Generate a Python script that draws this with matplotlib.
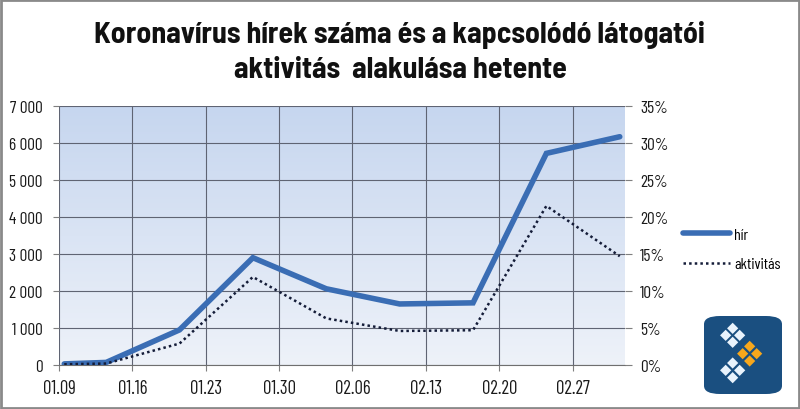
import matplotlib
matplotlib.use("Agg")
import matplotlib.pyplot as plt
import numpy as np
from datetime import datetime, timedelta
from matplotlib.ticker import FuncFormatter, MultipleLocator
from matplotlib.patches import FancyBboxPatch, Rectangle, Polygon
from matplotlib.colors import LinearSegmentedColormap

plt.rcParams['font.family'] = ['Barlow Condensed', 'DejaVu Sans']

title_lines = ["Koronavírus hírek száma és a kapcsolódó látogatói",
               "aktivitás  alakulása hetente"]
dates = ["2020-01-09", "2020-01-13", "2020-01-20", "2020-01-27", "2020-02-03",
         "2020-02-10", "2020-02-17", "2020-02-24", "2020-03-02"]
hir = [30, 70, 950, 2900, 2060, 1650, 1680, 5720, 6170]
aktivitas = [0.1, 0.2, 2.9, 11.9, 6.3, 4.6, 4.7, 21.5, 14.7]
tick_dates = ["2020-01-09", "2020-01-16", "2020-01-23", "2020-01-30",
              "2020-02-06", "2020-02-13", "2020-02-20", "2020-02-27"]
x_start, x_end = "2020-01-09", "2020-03-03"
series_names = ["hír", "aktivitás"]

xd = [datetime.fromisoformat(d) + timedelta(hours=12) for d in dates]
td = [datetime.fromisoformat(d) for d in tick_dates]

fig = plt.figure(figsize=(8, 4.1), dpi=100)
ax = fig.add_axes([0.07375, 0.1073, 0.7075, 0.6317])
ax2 = ax.twinx()

grad = np.linspace(0, 1, 256).reshape(-1, 1)
cmap = LinearSegmentedColormap.from_list("bg", ["#eef2f9", "#c6d6ef"])
ax.imshow(grad, extent=[0, 1, 0, 1], transform=ax.transAxes, origin="lower",
          aspect="auto", cmap=cmap, zorder=0)

ax.set_xlim(datetime.fromisoformat(x_start), datetime.fromisoformat(x_end))
ax.set_ylim(0, 7000)
ax2.set_ylim(0, 35)

ax.set_xticks(td)
ax.set_xticklabels([datetime.fromisoformat(d).strftime("%m.%d") for d in tick_dates])
ax.yaxis.set_major_locator(MultipleLocator(1000))
ax.yaxis.set_major_formatter(FuncFormatter(lambda v, p: f"{int(v):,}".replace(",", " ")))
ax2.yaxis.set_major_locator(MultipleLocator(5))
ax2.yaxis.set_major_formatter(FuncFormatter(lambda v, p: f"{int(v)}%"))

ax.grid(True, color="#5f6473", linewidth=0.8, zorder=1)
for s in ["top", "right", "left"]:
    ax.spines[s].set_visible(False)
    ax2.spines[s].set_visible(False)
ax2.spines["bottom"].set_visible(False)
ax.spines["bottom"].set_color("#6f6f6f")
ax.tick_params(axis="y", colors="#7f7f7f", labelcolor="#1a1a1a", labelsize=12.5,
               length=4.2, pad=7.5)
ax.tick_params(axis="x", colors="#7f7f7f", labelcolor="#1a1a1a", labelsize=13.5,
               length=4, pad=6)
ax2.tick_params(axis="y", colors="#7f7f7f", labelcolor="#1a1a1a", labelsize=12.5,
                length=5, pad=6)

l1, = ax.plot(xd, hir, color="#3a6db4", linewidth=4, solid_capstyle="round",
              solid_joinstyle="miter", zorder=3, label=series_names[0])
l2, = ax2.plot(xd, aktivitas, color="#141c38", linewidth=1.8, linestyle=(0, (1, 1.25)),
               dash_capstyle="butt", zorder=3, label=series_names[1])
ax2.set_zorder(ax.get_zorder() + 1)
ax2.patch.set_visible(False)

fig.legend(handles=[l1, l2], loc="center left", bbox_to_anchor=(0.854, 0.389),
           frameon=False, fontsize=11.5, handlelength=2.95, handletextpad=0.25,
           labelspacing=0.95, borderpad=0, borderaxespad=0)

for line, base in zip(title_lines, [43.3, 78]):
    fig.text(0.5, 1 - base / 410, line, ha="center", va="baseline", fontsize=21.5,
             fontweight="bold", color="#111111",
             family=["Barlow Semi Condensed", "Barlow Condensed", "DejaVu Sans"])

# logo (decoration)
lx0, ly0, lw, lh = 704 / 800, 1 - 395 / 410, 78 / 800, 78 / 410
fig.patches.append(FancyBboxPatch((lx0, ly0), lw, lh, boxstyle="round,pad=0,rounding_size=0.02",
                                  transform=fig.transFigure, facecolor="#1a4f80",
                                  edgecolor="none"))
cells = [(68, 22, "w"), (47, 43, "w"), (89, 43, "w"), (68, 64, "w"),
         (119, 76, "o"), (98, 98, "o"), (140, 98, "o"), (119, 120, "o"),
         (68, 126, "w"), (47, 148, "w"), (89, 148, "w"), (68, 170, "w")]
for zx, zy, c in cells:
    cx = 710 + zx / 3
    cy = 322 + zy / 3
    r = 5.6
    pts = [(cx - r, cy), (cx, cy - r), (cx + r, cy), (cx, cy + r)]
    pts = [(px / 800, 1 - py / 410) for px, py in pts]
    fig.patches.append(Polygon(pts, closed=True, transform=fig.transFigure,
                               facecolor="#e9f3fc" if c == "w" else "#f7a71c",
                               edgecolor="none"))

fig.patches.append(Rectangle((0.0015, 0.003), 0.997, 0.994, transform=fig.transFigure,
                             fill=False, edgecolor="#8a8a8a", linewidth=2))

fig.savefig("out.png", dpi=100)
